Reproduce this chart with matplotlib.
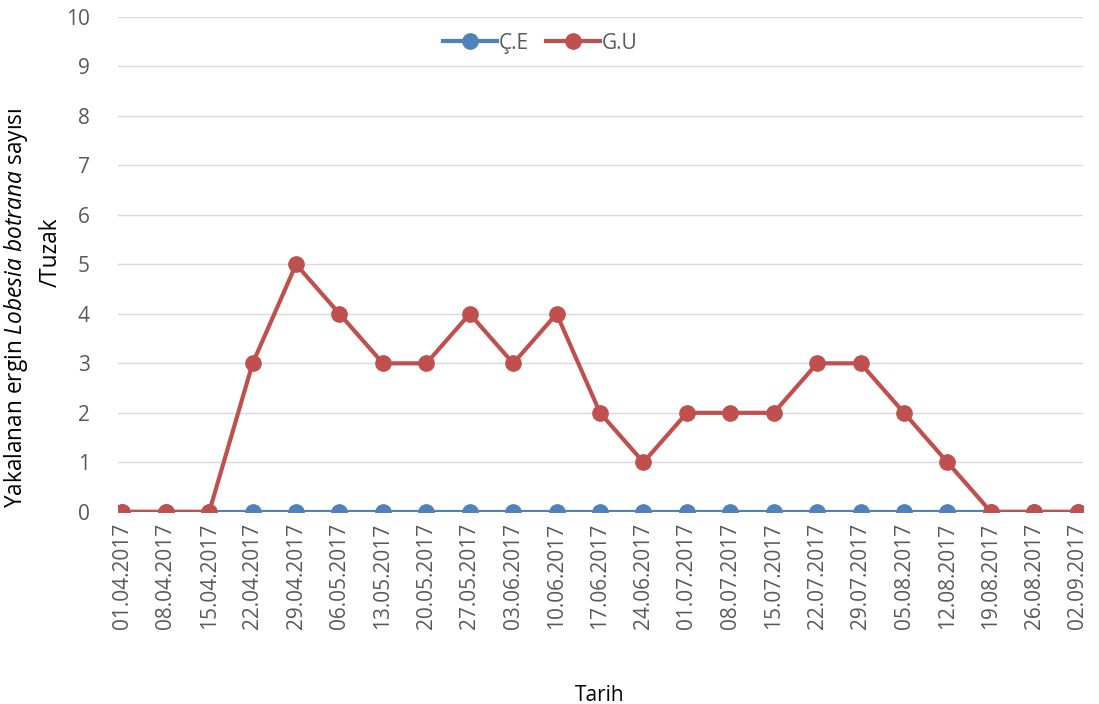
import matplotlib
matplotlib.use("Agg")
from matplotlib import pyplot as plt

tarihler = ["01.04.2017", "08.04.2017", "15.04.2017", "22.04.2017", "29.04.2017",
            "06.05.2017", "13.05.2017", "20.05.2017", "27.05.2017", "03.06.2017",
            "10.06.2017", "17.06.2017", "24.06.2017", "01.07.2017", "08.07.2017",
            "15.07.2017", "22.07.2017", "29.07.2017", "05.08.2017", "12.08.2017",
            "19.08.2017", "26.08.2017", "02.09.2017"]
ce = [0] * 23
gu = [0, 0, 0, 3, 5, 4, 3, 3, 4, 3, 4, 2, 1, 2, 2, 2, 3, 3, 2, 1, 0, 0, 0]

plt.rcParams['font.family'] = ['Open Sans', 'DejaVu Sans']
plt.rcParams['mathtext.fontset'] = 'custom'
plt.rcParams['mathtext.it'] = 'Open Sans:italic'
plt.rcParams['mathtext.rm'] = 'Open Sans'

fig = plt.figure(figsize=(10.99, 7.04), dpi=100)
ax = fig.add_axes([0.107, 0.273, 0.878, 0.703])

x = list(range(len(tarihler)))
ax.plot(x, ce, color='#4F81BD', lw=3, marker='o', ms=11, label='Ç.E', zorder=3)
ax.plot(x, gu, color='#C0504D', lw=3, marker='o', ms=11, label='G.U', zorder=4)

ax.set_xlim(-0.11, 22.11)
ax.set_ylim(0, 10)
ax.set_yticks(range(0, 11))
ax.set_xticks(x)
ax.set_xticklabels(tarihler, rotation=90)
ax.yaxis.grid(True, color='#D9D9D9', lw=1)
ax.set_axisbelow(True)
for s in ax.spines.values():
    s.set_visible(False)
ax.tick_params(axis='both', length=0, labelsize=15, labelcolor='#595959')
ax.tick_params(axis='y', pad=20)
ax.tick_params(axis='x', pad=8)

# y label in two pieces, placed like the original
fig.text(16 / 1099, 1 - 308 / 704, "Yakalanan ergin $\\it{Lobesia\\ botrana}$ sayısı",
         rotation=90, ha='center', va='center', fontsize=16.3, color='black')
fig.text(51 / 1099, 1 - 252 / 704, "/Tuzak",
         rotation=90, ha='center', va='center', fontsize=16.3, color='black')
ax.set_xlabel("Tarih", fontsize=15, color='black', labelpad=40)

ax.legend(loc='center', bbox_to_anchor=(0.438, 0.947), ncol=2, frameon=False,
          fontsize=15, labelcolor='#595959', handlelength=2.6, columnspacing=0.8,
          handletextpad=0.1)

fig.savefig("out.png", dpi=100)
